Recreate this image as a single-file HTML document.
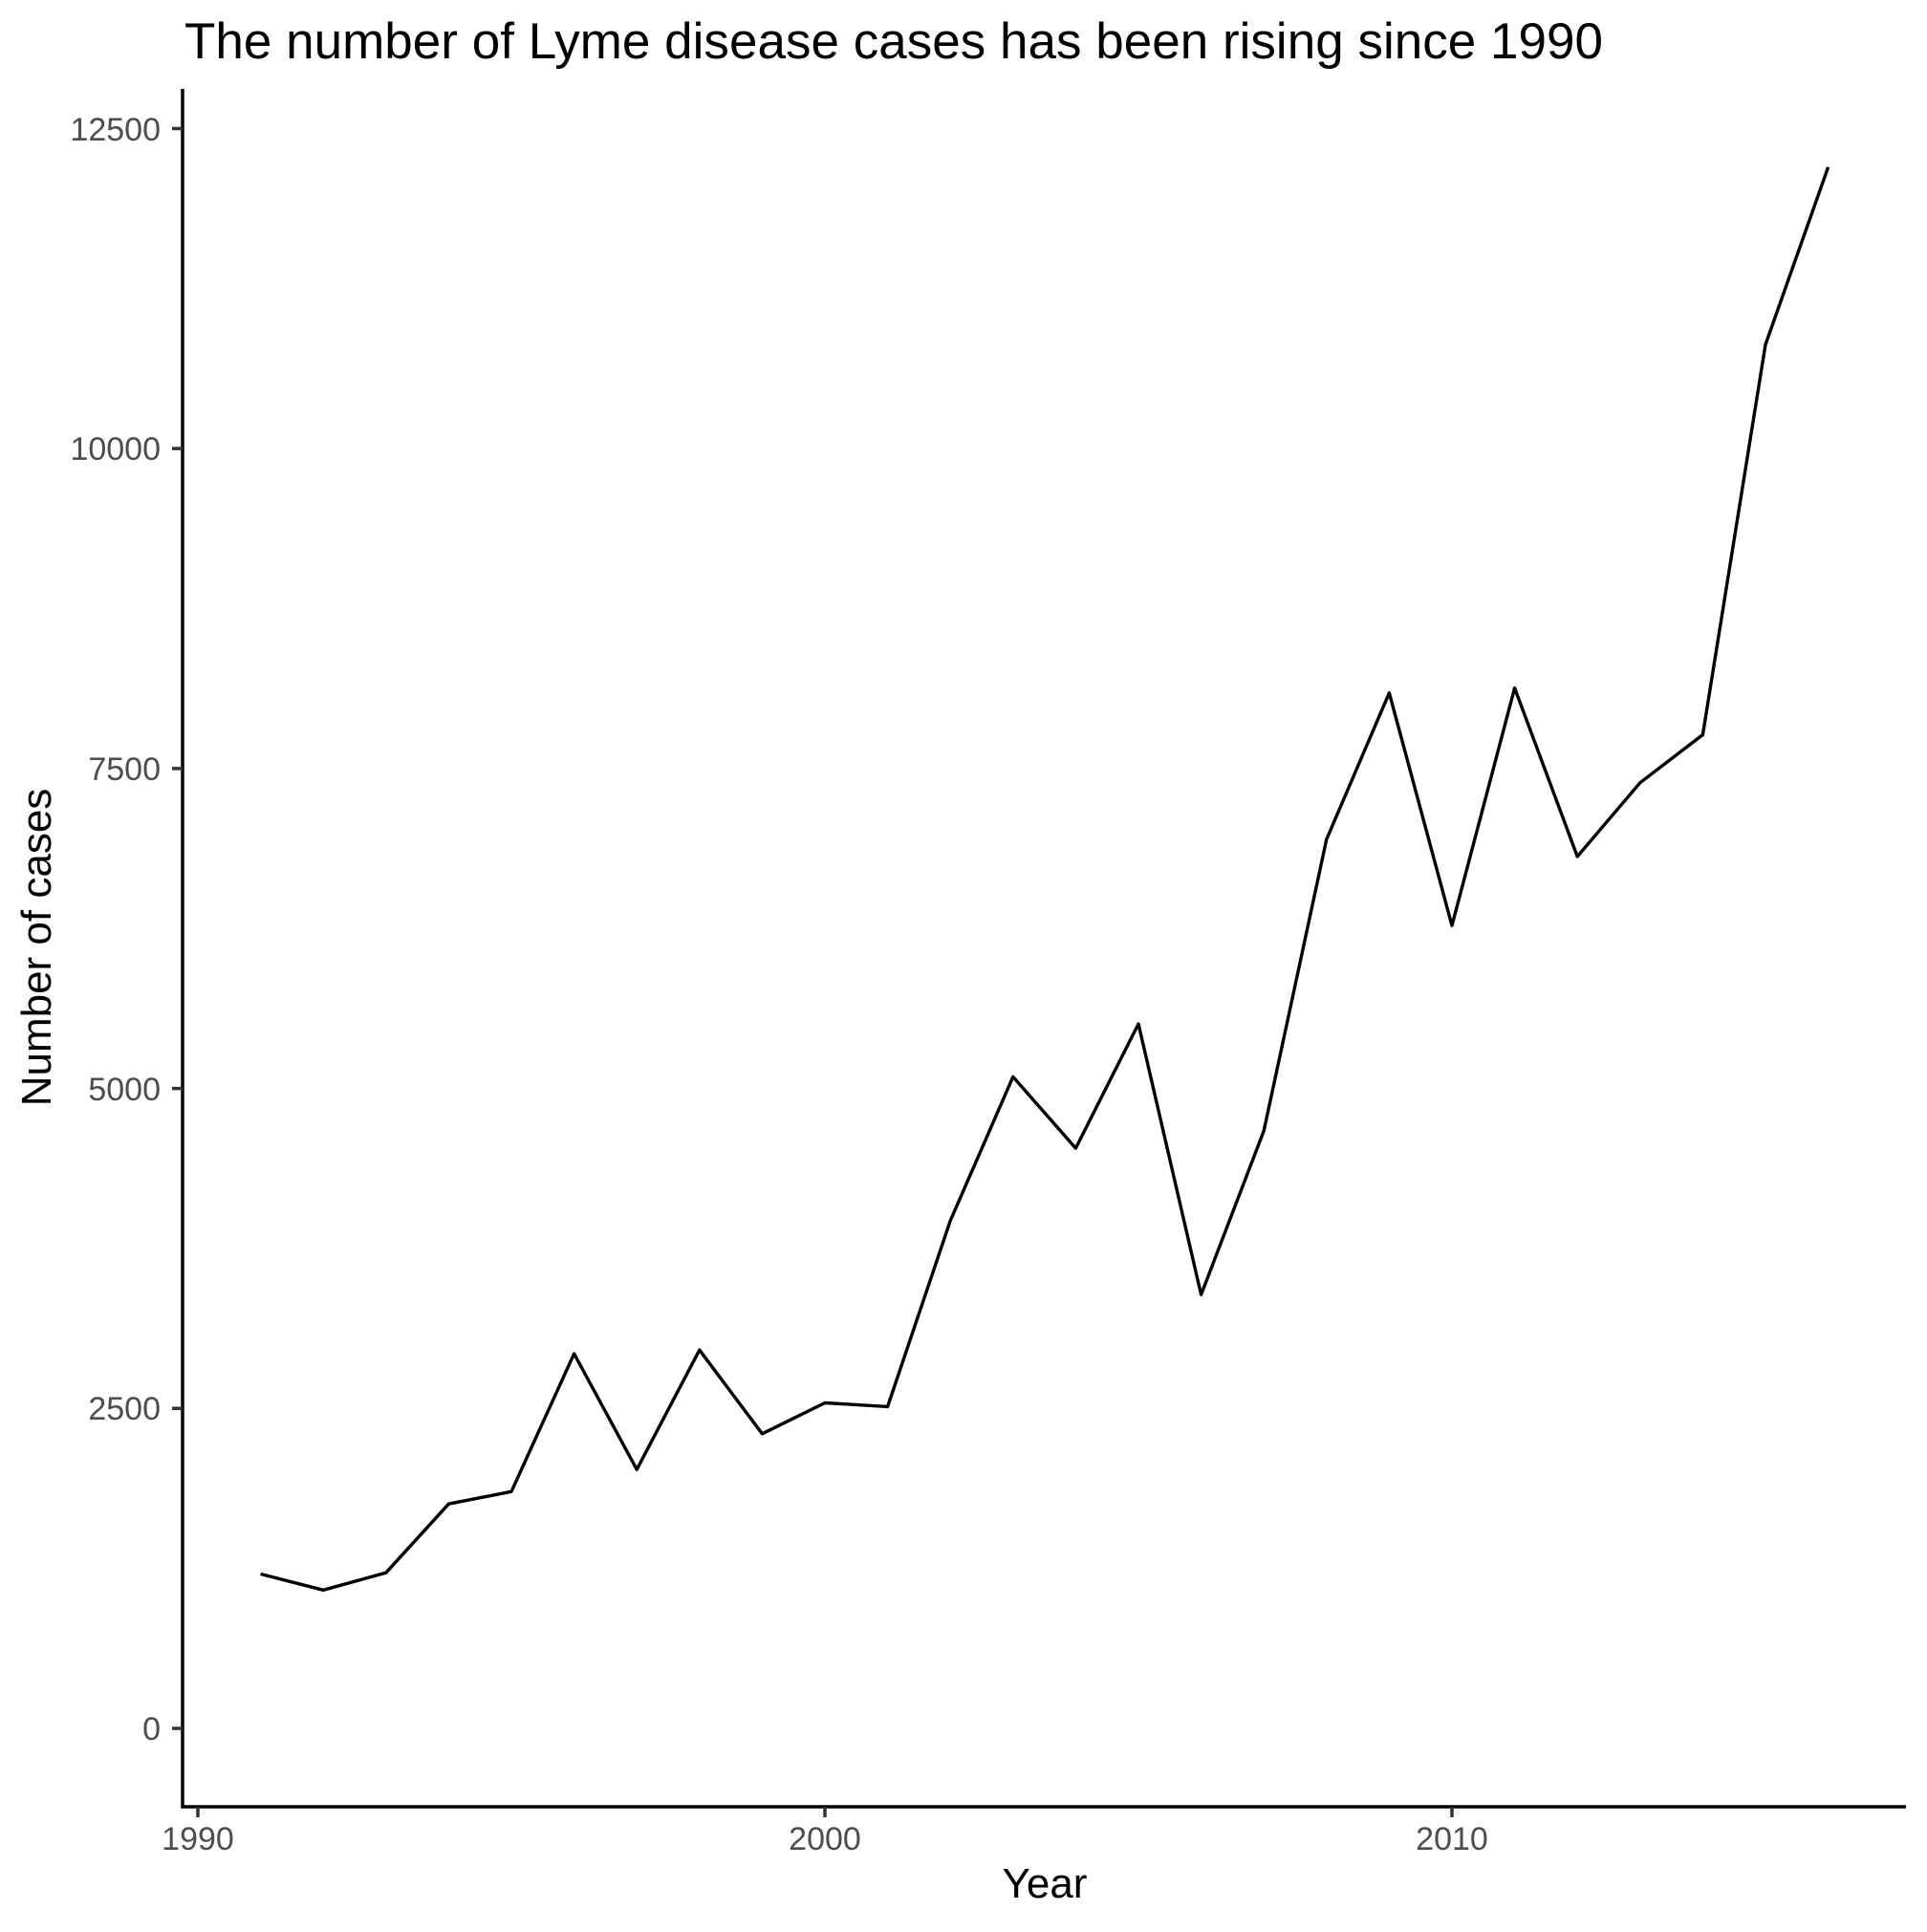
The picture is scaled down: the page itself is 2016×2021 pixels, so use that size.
<!DOCTYPE html>
<html><head><meta charset="utf-8"><style>html,body{margin:0;padding:0;background:#fff}</style></head>
<body>
<svg width="2016" height="2016" viewBox="0 0 2016 2016" xmlns="http://www.w3.org/2000/svg" font-family="Liberation Sans, Arial, sans-serif">
<rect width="2016" height="2016" fill="#fff"/>
<text x="193" y="61" font-size="53" fill="#000" textLength="1484">The number of Lyme disease cases has been rising since 1990</text>
<g stroke="#000" stroke-width="3.5" fill="none">
<line x1="191" y1="93" x2="191" y2="1891.5"/>
<line x1="189.5" y1="1890" x2="1994" y2="1890"/>
</g>
<g stroke="#333" stroke-width="3.5">
<line x1="180" y1="1808" x2="191" y2="1808"/>
<line x1="180" y1="1473.3" x2="191" y2="1473.3"/>
<line x1="180" y1="1138.6" x2="191" y2="1138.6"/>
<line x1="180" y1="803.9" x2="191" y2="803.9"/>
<line x1="180" y1="469.2" x2="191" y2="469.2"/>
<line x1="180" y1="134.5" x2="191" y2="134.5"/>
<line x1="207" y1="1890" x2="207" y2="1901"/>
<line x1="863" y1="1890" x2="863" y2="1901"/>
<line x1="1519" y1="1890" x2="1519" y2="1901"/>
</g>
<g font-size="34" fill="#4d4d4d" text-anchor="end">
<text x="168" y="1820">0</text>
<text x="168" y="1485">2500</text>
<text x="168" y="1151">5000</text>
<text x="168" y="816">7500</text>
<text x="168" y="481">10000</text>
<text x="168" y="147">12500</text>
</g>
<g font-size="34" fill="#4d4d4d" text-anchor="middle">
<text x="207" y="1935">1990</text>
<text x="863" y="1935">2000</text>
<text x="1519" y="1935">2010</text>
</g>
<text x="1093" y="1985" font-size="44" text-anchor="middle" fill="#000">Year</text>
<text transform="translate(53,991) rotate(-90)" font-size="44" text-anchor="middle" fill="#000">Number of cases</text>
<polyline fill="none" stroke="#000" stroke-width="3.4" stroke-linejoin="round" points="
272.6,1646.5 338.2,1663.3 403.8,1645.2 469.4,1573.2 535,1560.3 600.6,1416.1 666.2,1537.2 731.8,1412.2 797.4,1499.8 863,1467.5 928.6,1471.4 994.2,1277.0 1059.8,1126.4 1125.4,1201.1 1191,1071.1 1256.6,1354.3 1322.2,1183.0 1387.8,878.0 1453.4,724.8 1519,968.2 1584.6,719.7 1650.2,896.0 1715.8,818.8 1781.4,768.6 1847,360.5 1912.6,174.8"/>
</svg>
</body></html>
